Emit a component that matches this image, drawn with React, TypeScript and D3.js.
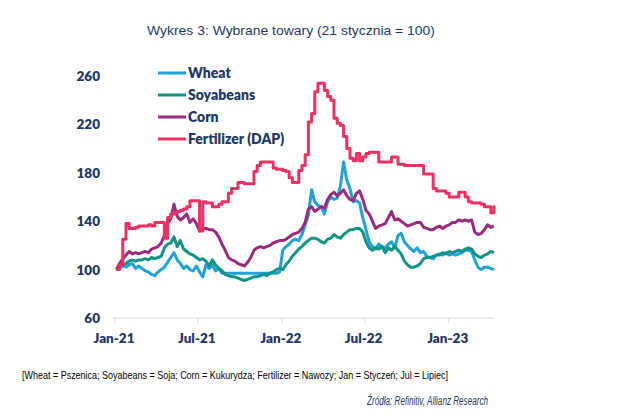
import React from 'react';
import * as d3 from 'd3';

const seriesNames = ['Wheat', 'Soyabeans', 'Corn', 'Fertilizer (DAP)'];
const seriesColors = ['#1ea2d8', '#109486', '#9a2b7c', '#ee2f61'];

const startDate = new Date(2021, 0, 4);

const wheat = [
  100, 101, 103, 102, 104, 105, 101, 103, 101, 99,
  98, 96, 95, 98, 100, 102, 106, 110, 114, 108,
  105, 101, 103, 100, 99, 103, 98, 94, 104, 101,
  104, 99, 101, 97, 97, 97, 97, 97, 97, 97,
  97, 97, 97, 97, 97, 97, 97, 97, 97, 97,
  97, 98,
  116, 119, 121, 124, 125, 124, 129, 137,
  145, 166, 156, 153, 152, 146, 156, 160, 158, 159,
  169, 189, 174, 167, 156, 157, 155, 143, 133, 123,
  119, 117, 121, 119, 118, 121, 123, 118, 128, 130,
  123, 120, 117, 115, 118, 114, 115, 111, 110, 109,
  112, 113, 112, 114, 112, 113, 112, 113, 114, 116,
  116, 115, 108, 102, 100, 102, 102, 101, 100,
];

const soyabeans = [
  100, 102, 104, 105, 107, 108, 107, 108, 108, 109,
  108, 110, 109, 110, 111, 118, 121, 122, 127, 119,
  124, 117, 115, 113, 112, 110, 108, 109, 107, 103,
  108, 104, 101, 99, 96, 95, 94, 94, 93, 92,
  91, 92, 93, 94, 94, 95, 96, 95, 97, 98,
  100, 101, 100, 104, 107, 111, 114, 117, 119, 122,
  124, 126, 126, 125, 123, 122, 125, 126, 129, 127,
  126, 129, 131, 133, 133, 134, 134, 131, 123, 118,
  116, 118, 117, 119, 114, 118, 116, 119, 116, 113,
  107, 104, 102, 102, 103, 105, 109, 110, 110, 111,
  112, 112, 114, 113, 115, 114, 115, 116, 115, 117,
  118, 117, 113, 111, 110, 112, 113, 115, 114,
];

const corn = [
  100, 105, 109, 112, 115, 113, 114, 113, 114, 115,
  114, 117, 118, 119, 122, 128, 138, 142, 154, 144,
  141, 143, 146, 139, 142, 138, 132, 134, 134, 133,
  133, 131, 127, 121, 116, 110, 108, 107, 105, 104,
  103, 106, 110, 116, 118, 119, 118, 119, 120, 122,
  123, 124, 124, 125, 127, 129, 130, 131, 134, 139,
  150, 152, 148, 150, 152, 151, 158, 162, 164, 161,
  163, 166, 161, 158, 157, 163, 165, 158, 149, 146,
  140, 134, 136, 137, 138, 143, 148, 141, 142, 140,
  138, 136, 137, 138, 139, 139, 135, 134, 133, 133,
  135, 136, 134, 136, 137, 139, 139, 141, 140, 141,
  140, 141, 131, 129, 130, 133, 137, 135, 136,
];

const fertilizer = [
  100, 104, 125, 138, 134, 134, 135, 136, 136, 136,
  137, 136, 139, 139, 139, 126, 143, 146, 147, 148,
  149, 150, 152, 157, 157, 157, 132, 156, 155, 155,
  152, 152, 154, 156, 156, 163, 167, 167, 172, 172,
  171, 171, 171, 181, 186, 189, 189, 189, 189, 184,
  183, 183, 182, 181, 176, 172, 172, 182, 186, 195,
  222, 229, 247, 254, 254, 248, 243, 240, 225, 221,
  219, 210, 200, 192, 190, 196, 190, 193, 196, 197,
  197, 197, 189, 189, 189, 189, 193, 193, 187, 187,
  186, 186, 186, 186, 186, 186, 179, 179, 179, 167,
  165, 165, 165, 163, 160, 160, 160, 164, 164, 160,
  156, 155, 155, 155, 154, 152, 152, 147, 153,
];

const yTicks = [60, 100, 140, 180, 220, 260];
const xTickDates = [
  new Date(2021, 0, 1),
  new Date(2021, 6, 1),
  new Date(2022, 0, 1),
  new Date(2022, 6, 1),
  new Date(2023, 0, 1),
];
const xTickLabels = ['Jan-21', 'Jul-21', 'Jan-22', 'Jul-22', 'Jan-23'];

const titleText = 'Wykres 3: Wybrane towary (21 stycznia = 100)';
const footnoteText =
  '[Wheat = Pszenica; Soyabeans = Soja; Corn = Kukurydza; Fertilizer = Nawozy; Jan = Styczeń; Jul = Lipiec]';
const sourceText = 'Źródła: Refinitiv,  Allianz Research';

const navy = '#1f3864';

export default function App() {
  const W = 640;
  const H = 419;
  const x = d3
    .scaleTime()
    .domain([new Date(2021, 0, 1), new Date(2023, 3, 10)])
    .range([115, 494]);
  const y = d3.scaleLinear().domain([60, 260]).range([318, 76]);

  const allSeries = [wheat, soyabeans, corn, fertilizer];
  const dates = wheat.map((_, i) => d3.timeDay.offset(startDate, 7 * i));

  const makeLine = (stepped: boolean) =>
    d3
      .line<number>()
      .x((_, i) => x(dates[i]))
      .y((v) => y(v))
      .curve(stepped ? d3.curveStepAfter : d3.curveLinear);

  const legendY = [73, 95, 117, 139];

  return (
    <svg
      width={W}
      height={H}
      style={{ position: 'absolute', left: 0, top: 0, background: '#fff' }}
    >
      <rect x={0} y={0} width={W} height={H} fill="#fff" />
      <text
        x={291}
        y={35}
        textAnchor="middle"
        fontFamily="'Liberation Sans', Arial, sans-serif"
        fontSize={13.5}
        fill={navy}
        textLength={288}
        lengthAdjust="spacingAndGlyphs"
      >
        {titleText}
      </text>

      {/* y tick labels */}
      {yTicks.map((t) => (
        <text
          key={t}
          x={100}
          y={y(t) + 5}
          textAnchor="end"
          fontFamily="Lato, 'Open Sans', sans-serif"
          fontWeight={800}
          fontSize={13.5}
          fill={navy}
        >
          {t}
        </text>
      ))}

      {/* x axis */}
      <line x1={113} x2={494} y1={y(60)} y2={y(60)} stroke="#d9d9d9" strokeWidth={1} />
      {xTickDates.map((d, i) => (
        <g key={i}>
          <line x1={x(d)} x2={x(d)} y1={y(60)} y2={y(60) + 5} stroke="#d9d9d9" strokeWidth={1} />
          <text
            x={x(d) - 1}
            y={343}
            textAnchor="middle"
            fontFamily="Lato, 'Open Sans', sans-serif"
            fontWeight={800}
            fontSize={13.5}
            fill={navy}
          >
            {xTickLabels[i]}
          </text>
        </g>
      ))}

      {/* series */}
      {allSeries.map((s, k) => (
        <path
          key={k}
          d={makeLine(k === 3)(s) || ''}
          fill="none"
          stroke={seriesColors[k]}
          strokeWidth={3}
          strokeLinejoin="round"
        />
      ))}

      {/* legend */}
      {seriesNames.map((n, k) => (
        <g key={n}>
          <line
            x1={158}
            x2={186}
            y1={legendY[k]}
            y2={legendY[k]}
            stroke={seriesColors[k]}
            strokeWidth={3}
          />
          <text
            x={188}
            y={legendY[k] + 5}
            fontFamily="Lato, 'Open Sans', sans-serif"
            fontWeight={800}
            fontSize={14}
            fill={navy}
          >
            {n}
          </text>
        </g>
      ))}

      <text
        x={22}
        y={379}
        fontFamily="'Liberation Sans', Arial, sans-serif"
        fontSize={11.5}
        fill="#000"
        textLength={426}
        lengthAdjust="spacingAndGlyphs"
      >
        {footnoteText}
      </text>
      <text
        x={367}
        y={405}
        fontFamily="'Liberation Sans', Arial, sans-serif"
        fontStyle="italic"
        fontSize={12.5}
        fill={navy}
        textLength={121}
        lengthAdjust="spacingAndGlyphs"
      >
        {sourceText}
      </text>
    </svg>
  );
}
